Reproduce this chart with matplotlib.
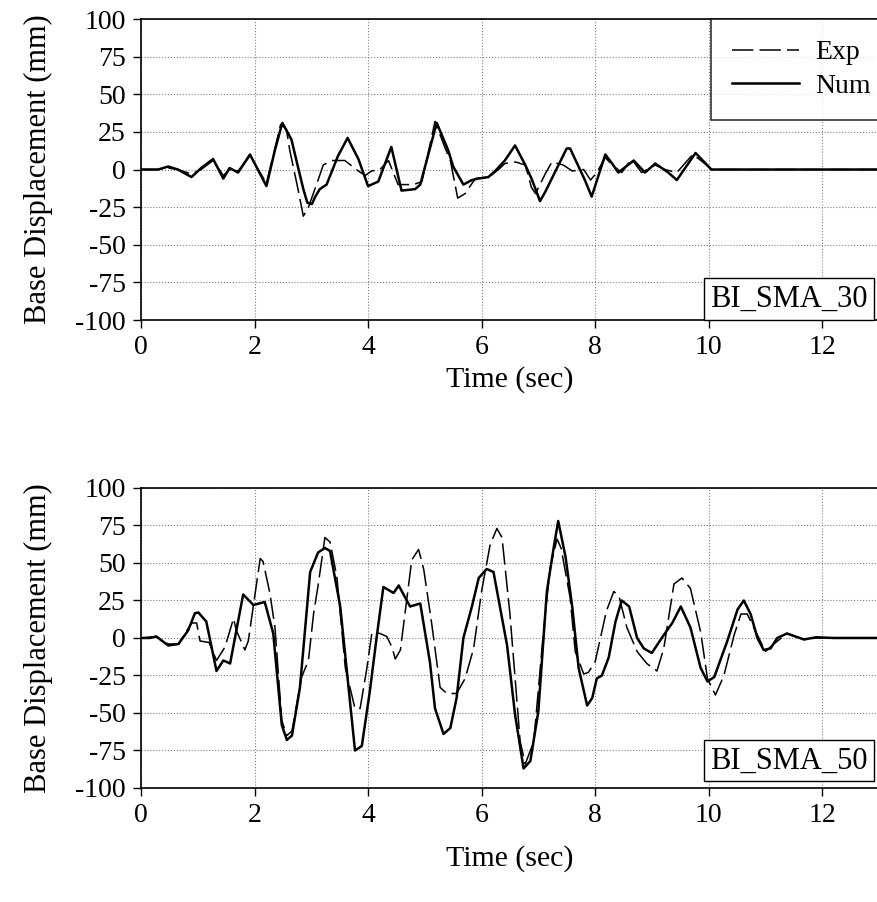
import matplotlib
matplotlib.use("Agg")
import matplotlib.pyplot as plt

# Values (time in sec, displacement in mm)
t_num_30 = [0, 0.3, 0.48, 0.65, 0.89, 1.06, 1.27, 1.45, 1.56, 1.71, 1.92, 2.21, 2.36, 2.49,
            2.65, 2.77, 2.86, 2.93, 3.01, 3.07, 3.15, 3.27, 3.47, 3.64, 3.83, 4.0, 4.18, 4.41,
            4.59, 4.83, 4.92, 5.21, 5.41, 5.5, 5.68, 5.83, 5.94, 6.12, 6.24, 6.41, 6.59, 6.77,
            6.88, 7.03, 7.12, 7.29, 7.5, 7.56, 7.82, 7.94, 8.18, 8.3, 8.41, 8.68, 8.88, 9.06,
            9.29, 9.44, 9.77, 10.05, 10.5, 13]
d_num_30 = [0, 0, 2, 0, -5, 1, 7, -6, 1, -2, 10, -11, 13, 31,
            20, 1, -13, -22, -23, -18, -13, -10, 9, 21, 7, -11, -8, 15,
            -14, -13, -10, 31, 13, 2, -10, -7, -6, -5, -1, 6, 16, 3,
            -6, -21, -15, -2, 14, 14, -7, -18, 10, 4, -2, 6, -2, 4,
            -2, -7, 11, 0, 0, 0]

t_exp_30 = [0, 0.3, 0.48, 0.65, 0.89, 1.06, 1.27, 1.45, 1.56, 1.71, 1.92, 2.21, 2.36, 2.46,
            2.56, 2.62, 2.76, 2.86, 2.95, 3.12, 3.21, 3.36, 3.47, 3.59, 3.83, 3.95, 4.06, 4.21,
            4.36, 4.53, 4.8, 4.95, 5.18, 5.35, 5.45, 5.58, 5.71, 5.89, 6.13, 6.3, 6.41, 6.6,
            6.77, 6.88, 6.95, 7.12, 7.24, 7.44, 7.6, 7.8, 7.92, 8.03, 8.18, 8.3, 8.47, 8.64,
            8.82, 9.06, 9.23, 9.44, 9.72, 9.9, 10.05, 13]
d_exp_30 = [0, 0, 1, 0, -3, 0, 6, -4, 0, -1, 9, -9, 14, 30,
            27, 13, -12, -31, -25, -7, 3, 6, 6, 6, -1, -4, -1, 0,
            6, -10, -10, -8, 32, 15, 6, -19, -16, -6, -5, 0, 4, 5,
            3, -12, -16, -3, 5, 3, -1, 0, -7, -2, 8, 3, -2, 7,
            -2, 3, 0, -2, 10, 5, 0, 0]

t_num_50 = [0, 0.15, 0.27, 0.48, 0.66, 0.83, 0.95, 1.01, 1.15, 1.33, 1.45, 1.57, 1.8, 1.98,
            2.18, 2.33, 2.48, 2.57, 2.66, 2.8, 2.98, 3.12, 3.24, 3.33, 3.51, 3.77, 3.89, 4.03,
            4.15, 4.27, 4.45, 4.54, 4.74, 4.92, 5.09, 5.18, 5.33, 5.45, 5.56, 5.68, 5.83, 5.95,
            6.09, 6.21, 6.45, 6.59, 6.74, 6.86, 7.0, 7.15, 7.27, 7.35, 7.48, 7.6, 7.71, 7.86,
            7.95, 8.03, 8.12, 8.24, 8.36, 8.47, 8.6, 8.74, 8.86, 9.0, 9.21, 9.36, 9.51, 9.68,
            9.86, 9.98, 10.1, 10.33, 10.51, 10.62, 10.74, 10.86, 10.97, 11.09, 11.21, 11.38,
            11.68, 11.9, 12.2, 13]
d_num_50 = [0, 0, 1, -5, -4, 5, 16.5, 17, 11, -22, -15, -17, 29, 22,
            24, 3, -58, -68, -65, -33, 44, 57, 60, 58, 21, -75, -72, -36,
            0, 34, 30, 35, 21, 23, -16, -47, -64, -60, -40, 0, 21, 40,
            46, 44, -5, -51, -87, -82, -49, 31, 60, 78, 54, 20, -20, -45,
            -40, -27, -25, -13, 11, 25, 21, 0, -7, -10, 2, 10, 21, 7,
            -20, -29, -26, -2, 19, 25, 16, 0, -8, -7, 0, 3,
            -1, 0.5, 0, 0]

t_exp_50 = [0, 0.27, 0.48, 0.66, 0.89, 0.98, 1.04, 1.2, 1.33, 1.48, 1.63, 1.68, 1.83, 1.89,
            2.1, 2.15, 2.27, 2.36, 2.48, 2.57, 2.66, 2.83, 2.95, 3.04, 3.12, 3.24, 3.33, 3.45,
            3.6, 3.77, 3.86, 3.98, 4.07, 4.21, 4.33, 4.42, 4.48, 4.57, 4.68, 4.77, 4.89, 4.98,
            5.12, 5.27, 5.39, 5.56, 5.71, 5.86, 6.0, 6.15, 6.27, 6.36, 6.5, 6.68, 6.77, 6.92,
            7.09, 7.21, 7.33, 7.4, 7.56, 7.65, 7.8, 7.88, 8.0, 8.2, 8.33, 8.42, 8.56, 8.74,
            8.91, 9.09, 9.21, 9.39, 9.53, 9.68, 9.86, 9.98, 10.12, 10.27, 10.45, 10.57, 10.68,
            10.86, 11.0, 11.15, 11.38, 11.68, 11.9, 12.2, 13]
d_exp_50 = [0, 1, -4, -4, 10, 10, -2, -3, -15, -6, 13, 5, -8, -2,
            53, 51, 30, 7, -55, -65, -62, -26, -15, 16, 35, 67, 64, 41,
            -20, -47, -47, -20, 4, 3, 1, -6, -14, -8, 25, 52, 59, 46,
            10, -33, -37, -37, -27, -7, 31, 62, 73, 67, 16, -69, -84, -69,
            4, 47, 66, 60, 27, -9, -24, -23, -16, 18, 31, 28, 7, -9,
            -17, -22, -7, 36, 40, 33, 4, -27, -38, -25, 2, 16, 16,
            2, -9, -4, 3, -1, 0, 0, 0]

x_ticks = [0, 2, 4, 6, 8, 10, 12]
y_ticks = [-100, -75, -50, -25, 0, 25, 50, 75, 100]

plt.rcParams["font.family"] = "Liberation Serif"
plt.rcParams["axes.unicode_minus"] = False

fig = plt.figure(figsize=(8.78, 9.02), dpi=100)
ax1 = fig.add_axes([0.1606, 0.6452, 0.8404, 0.3337])
ax2 = fig.add_axes([0.1606, 0.1264, 0.8404, 0.3326])

dash = (0, (14, 4))
panels = [
    (ax1, t_exp_30, d_exp_30, t_num_30, d_num_30, "BI_SMA_30", 0.022),
    (ax2, t_exp_50, d_exp_50, t_num_50, d_num_50, "BI_SMA_50", 0.042),
]

for ax, te, de, tn, dn, tag, tag_y in panels:
    ax.plot(te, de, color="black", linestyle=dash, linewidth=1.1, label="Exp")
    ax.plot(tn, dn, color="black", linewidth=1.8, label="Num")
    ax.set_xlim(0, 13)
    ax.set_ylim(-100, 100)
    ax.set_xticks(x_ticks)
    ax.set_yticks(y_ticks)
    ax.grid(True, color="gray", linestyle=":", linewidth=0.8)
    ax.tick_params(axis="both", labelsize=20, direction="out", length=6, width=1, pad=5)
    ax.set_xlabel("Time (sec)", fontsize=21.5, labelpad=4)
    ax.set_ylabel("Base Displacement (mm)", fontsize=22, labelpad=16)
    for s in ax.spines.values():
        s.set_linewidth(1.2)
    ax.text(0.985, tag_y, tag, transform=ax.transAxes, ha="right", va="bottom", fontsize=22,
            bbox=dict(boxstyle="square,pad=0.2", facecolor="white", edgecolor="black", linewidth=1))

ax2.xaxis.labelpad = 12

leg = ax1.legend(loc="upper left", bbox_to_anchor=(0.773, 0.65, 0.3, 0.35), mode="expand",
                 fontsize=20, frameon=True, fancybox=False, handlelength=2.4,
                 handletextpad=0.6, borderpad=0.75, labelspacing=0.3, borderaxespad=0)
leg.get_frame().set_edgecolor("black")
leg.get_frame().set_linewidth(1.2)

fig.savefig("out.png", dpi=100)
